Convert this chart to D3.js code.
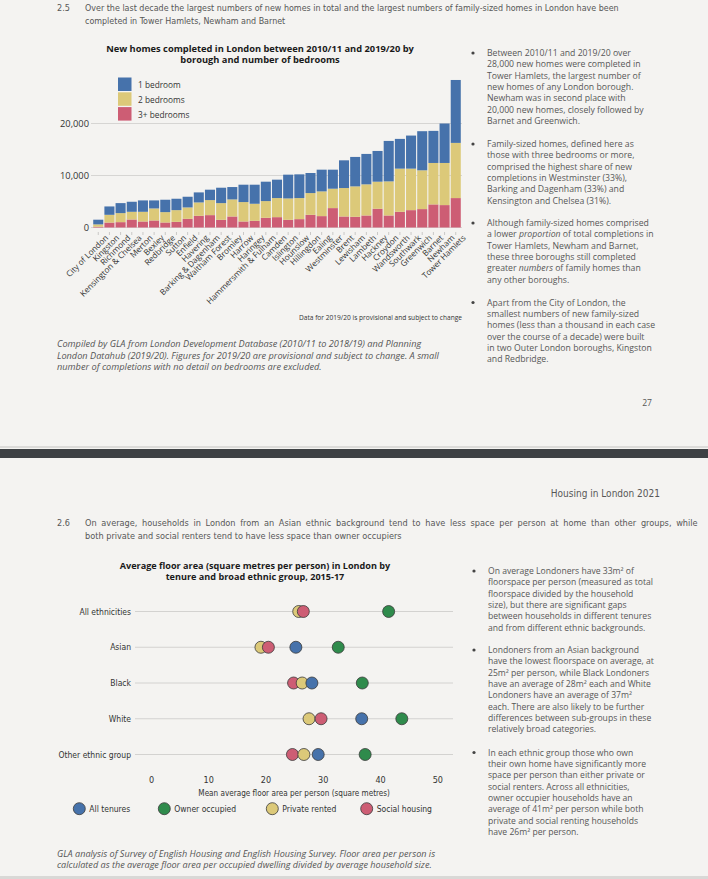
<!DOCTYPE html>
<html>
<head>
<meta charset="utf-8">
<script src="https://cdn.jsdelivr.net/npm/d3@7"></script>
<style>
body{margin:0;background:#f4f3f1;}
svg{display:block;}
text{font-family:"Open Sans",sans-serif;}
.narrow{font-family:"Liberation Sans Narrow","DejaVu Sans Condensed","Roboto",sans-serif;}
</style>
</head>
<body>
<svg id="page" width="708" height="879"></svg>
<script>
// ---------- chart 2.5 data ----------
const boroughs = ["City of London","Kingston","Richmond","Kensington & Chelsea","Merton","Bexley","Redbridge","Sutton","Enfield","Havering","Barking & Dagenham","Waltham Forest","Bromley","Harrow","Haringey","Hammersmith & Fulham","Camden","Islington","Hounslow","Hillingdon","Ealing","Westminster","Brent","Lewisham","Lambeth","Hackney","Croydon","Wandsworth","Southwark","Greenwich","Barnet","Newham","Tower Hamlets"];
const threePlus = [150,950,1030,1540,1160,1350,965,1090,1670,2250,2380,1480,2120,1160,1290,1865,1990,1480,1610,2440,2190,3730,2120,2060,2315,3600,2315,3020,3340,3540,4440,4310,5660];
const twoBed    = [450,1490,1735,1480,1860,2315,1995,2250,2190,2570,2890,3210,3280,3730,3275,3215,3670,4110,4050,4180,4755,3730,5470,5850,5985,5210,6555,8300,7980,7460,7970,8100,10610];
const oneBed    = [900,1610,1925,1930,2190,1545,2380,2190,2055,1930,2000,2960,2380,3340,3665,3730,3540,4570,4560,3860,4175,3660,5330,5660,5850,5910,7780,5720,6360,7520,6170,7590,12100];
const barKeys   = ["3+ bedrooms","2 bedrooms","1 bedroom"];
const yTicks    = [0,10000,20000];

// ---------- chart 2.6 data ----------
const groups        = ["All ethnicities","Asian","Black","White","Other ethnic group"];
const allTenures    = [null,25.3,28.1,36.8,29.2];
const ownerOccupied = [41.5,32.7,36.9,43.8,37.4];
const privateRented = [25.8,19.2,26.4,27.6,26.7];
const socialHousing = [26.6,20.5,24.9,29.7,24.7];
const tenures       = ["All tenures","Owner occupied","Private rented","Social housing"];
const xTicks        = [0,10,20,30,40,50];

const BLUE="#4672ab", YELLOW="#dcc979", RED="#cd5d74", GREEN="#2f8b4c";
const TXT="#575757";

const svg = d3.select("#page");
svg.append("rect").attr("width",708).attr("height",879).attr("fill","#f4f3f1");

//多行文字
function para(x, y0, dy, rows, opt){
    opt = opt || {};
    rows.forEach((r,i)=>{
        const t = svg.append("text").attr("x",x).attr("y",y0+i*dy)
            .attr("font-size",opt.size).attr("fill",opt.fill || TXT);
        if(opt.cls) t.attr("class",opt.cls);
        if(opt.style) t.attr("font-style",opt.style);
        if(opt.anchor) t.attr("text-anchor",opt.anchor);
        if(opt.weight) t.attr("font-weight",opt.weight);
        if(opt.ws && opt.ws[i]) t.attr("word-spacing",opt.ws[i]);
        const segs = Array.isArray(r) ? r : [r];
        segs.forEach(s=>{
            if(typeof s==="string") t.append("tspan").text(s);
            else t.append("tspan").attr("font-style","italic").text(s.i);
        });
    });
}
function bullets(x, list, size){
    list.forEach(b=>{
        svg.append("circle").attr("cx",x).attr("cy",b.y-3).attr("r",1.6).attr("fill","#444");
        para(x+14, b.y, 11.35, b.rows, {size:size});
    });
}

// ---------- page 1 ----------
svg.append("text").attr("class","narrow").attr("x",57).attr("y",11).attr("font-size",9).attr("fill",TXT).text("2.5");
para(85, 11, 12.5, ["Over the last decade the largest numbers of new homes in total and the largest numbers of family-sized homes in London have been",
    "completed in Tower Hamlets, Newham and Barnet"], {cls:"narrow", size:8.9});

para(260, 51.5, 11.8, ["New homes completed in London between 2010/11 and 2019/20 by","borough and number of bedrooms"],
    {size:9.3, fill:"#1a1a1a", anchor:"middle", weight:"bold"});

const y = d3.scaleLinear().domain([0,20000]).range([227.5,123.5]);
const x = d3.scaleBand().domain(boroughs).range([93,461]).paddingInner(0.1).paddingOuter(0.02);

const gBar = svg.append("g");
gBar.selectAll("line.grid").data(yTicks).enter().append("line")
    .attr("x1",91).attr("x2",462).attr("y1",d=>y(d)).attr("y2",d=>y(d))
    .attr("stroke","#d6d5d3").attr("stroke-width",1);
gBar.selectAll("text.yt").data(yTicks).enter().append("text")
    .attr("x",89).attr("y",d=>y(d)+3.2).attr("text-anchor","end")
    .attr("font-size",9.3).attr("fill","#333").text(d3.format(","));

const rows = boroughs.map((b,i)=>({borough:b,"3+ bedrooms":threePlus[i],"2 bedrooms":twoBed[i],"1 bedroom":oneBed[i]}));
const stack = d3.stack().keys(barKeys)(rows);
const barColor = d3.scaleOrdinal().domain(barKeys).range([RED,YELLOW,BLUE]);
gBar.selectAll("g.layer").data(stack).enter().append("g")
    .attr("fill",d=>barColor(d.key))
    .selectAll("rect").data(d=>d).enter().append("rect")
    .attr("x",d=>x(d.data.borough)).attr("width",x.bandwidth())
    .attr("y",d=>y(d[1])).attr("height",d=>y(d[0])-y(d[1]));

// x 轴
const xAxis = gBar.append("g").attr("transform","translate(0,232)")
    .call(d3.axisBottom(x).tickSize(3).tickPadding(2));
xAxis.select(".domain").remove();
xAxis.selectAll(".tick line").attr("stroke","#c9c8c6");
xAxis.selectAll(".tick text")
    .attr("font-family","Open Sans").attr("font-size",8.2).attr("fill","#333")
    .attr("text-anchor","end").attr("transform","translate(4,0) rotate(-45)").attr("dy","0.5em");

// legend
const legKeys = ["1 bedroom","2 bedrooms","3+ bedrooms"];
legKeys.forEach((k,i)=>{
    svg.append("rect").attr("x",118).attr("y",77.5+i*14.8).attr("width",13.5).attr("height",13.5).attr("fill",barColor(k));
    svg.append("text").attr("x",138).attr("y",88+i*14.8).attr("font-size",8.3).attr("fill","#333").text(k);
});

svg.append("text").attr("x",462).attr("y",320).attr("text-anchor","end").attr("font-size",6.6).attr("fill","#333")
    .text("Data for 2019/20 is provisional and subject to change");

para(57, 347, 11.6, ["Compiled by GLA from London Development Database (2010/11 to 2018/19) and Planning",
    "London Datahub (2019/20). Figures for 2019/20 are provisional and subject to change. A small",
    "number of completions with no detail on bedrooms are excluded."], {size:9.2, fill:"#555", style:"italic"});

bullets(473, [
    {y:56, rows:["Between 2010/11 and 2019/20 over","28,000 new homes were completed in","Tower Hamlets, the largest number of","new homes of any London borough.","Newham was in second place with","20,000 new homes, closely followed by","Barnet and Greenwich."]},
    {y:147, rows:["Family-sized homes, defined here as","those with three bedrooms or more,","comprised the highest share of new","completions in Westminster (33%),","Barking and Dagenham (33%) and","Kensington and Chelsea (31%)."]},
    {y:226, rows:["Although family-sized homes comprised",["a lower ",{i:"proportion"}," of total completions in"],"Tower Hamlets, Newham and Barnet,","these three boroughs still completed",["greater ",{i:"numbers"}," of family homes than"],"any other boroughs."]},
    {y:305.5, rows:["Apart from the City of London, the","smallest numbers of new family-sized","homes (less than a thousand in each case","over the course of a decade) were built","in two Outer London boroughs, Kingston","and Redbridge."]}
], 8.7);

svg.append("text").attr("x",652).attr("y",406).attr("text-anchor","end").attr("font-size",8.6).attr("fill",TXT).text("27");

// page break
svg.append("rect").attr("x",0).attr("y",446).attr("width",708).attr("height",2).attr("fill","#dcdbd9");
svg.append("rect").attr("x",0).attr("y",449).attr("width",708).attr("height",9).attr("fill","#3e4144");

// ---------- page 2 ----------
svg.append("text").attr("class","narrow").attr("x",660).attr("y",497).attr("text-anchor","end").attr("font-size",10).attr("fill",TXT).text("Housing in London 2021");
svg.append("text").attr("class","narrow").attr("x",57).attr("y",526).attr("font-size",9).attr("fill",TXT).text("2.6");
para(85, 526, 12.8, ["On average, households in London from an Asian ethnic background tend to have less space per person at home than other groups, while",
    "both private and social renters tend to have less space than owner occupiers"], {cls:"narrow", size:9.1, ws:[2.1,0]});

para(255, 568.5, 11.8, ["Average floor area (square metres per person) in London by","tenure and broad ethnic group, 2015-17"],
    {size:9.1, fill:"#1a1a1a", anchor:"middle", weight:"bold"});

const xd = d3.scaleLinear().domain([0,50]).range([151,437.3]);
const yd = d3.scalePoint().domain(groups).range([611.5,754.5]);
const dotColor = d3.scaleOrdinal().domain(tenures).range([BLUE,GREEN,YELLOW,RED]);

const gDot = svg.append("g");
gDot.selectAll("line.row").data(groups).enter().append("line")
    .attr("x1",135).attr("x2",453).attr("y1",d=>yd(d)).attr("y2",d=>yd(d))
    .attr("stroke","#d3d2d0").attr("stroke-width",1);
gDot.selectAll("text.row").data(groups).enter().append("text")
    .attr("class","narrow").attr("x",131).attr("y",d=>yd(d)+3).attr("text-anchor","end")
    .attr("font-size",8.5).attr("fill","#333").text(d=>d);

const series = [allTenures, ownerOccupied, privateRented, socialHousing];
const dots = [];
groups.forEach((g,gi)=>{
    const row = [];
    series.forEach((s,si)=>{ if(s[gi]!=null) row.push({group:g, tenure:tenures[si], value:s[gi]}); });
    row.sort((a,b)=>a.value-b.value);
    dots.push(...row);
});
gDot.selectAll("circle.dot").data(dots).enter().append("circle")
    .attr("cx",d=>xd(d.value)).attr("cy",d=>yd(d.group)).attr("r",6)
    .attr("fill",d=>dotColor(d.tenure)).attr("stroke","#3a3a3a").attr("stroke-width",0.8);

const xAx = gDot.append("g").attr("transform","translate(0,777)")
    .call(d3.axisBottom(xd).tickValues(xTicks).tickSize(0).tickPadding(0));
xAx.select(".domain").remove();
xAx.selectAll(".tick text").attr("class","narrow").attr("font-size",9).attr("fill","#333").attr("dy","0.71em");
gDot.append("text").attr("class","narrow").attr("x",xd(25)).attr("y",796).attr("text-anchor","middle")
    .attr("font-size",8.1).attr("fill","#333").text("Mean average floor area per person (square metres)");

const legX = [79.3,164.3,272.3,366.7];
tenures.forEach((t,i)=>{
    gDot.append("circle").attr("cx",legX[i]).attr("cy",808.7).attr("r",6)
        .attr("fill",dotColor(t)).attr("stroke","#3a3a3a").attr("stroke-width",0.8);
    gDot.append("text").attr("class","narrow").attr("x",legX[i]+10).attr("y",811.8).attr("font-size",8.5).attr("fill","#333").text(t);
});

bullets(474, [
    {y:574, rows:["On average Londoners have 33m² of","floorspace per person (measured as total","floorspace divided by the household","size), but there are significant gaps","between households in different tenures","and from different ethnic backgrounds."]},
    {y:653, rows:["Londoners from an Asian background","have the lowest floorspace on average, at","25m² per person, while Black Londoners","have an average of 28m² each and White","Londoners have an average of 37m²","each. There are also likely to be further","differences between sub-groups in these","relatively broad categories."]},
    {y:755.5, rows:["In each ethnic group those who own","their own home have significantly more","space per person than either private or","social renters. Across all ethnicities,","owner occupier households have an","average of 41m² per person while both","private and social renting households","have 26m² per person."]}
], 8.6);

para(57, 857, 11.4, ["GLA analysis of Survey of English Housing and English Housing Survey. Floor area per person is",
    "calculated as the average floor area per occupied dwelling divided by average household size."], {size:9.1, fill:"#555", style:"italic"});

svg.append("rect").attr("x",0).attr("y",876).attr("width",708).attr("height",3).attr("fill","#d9d8d6");
</script>
</body>
</html>
